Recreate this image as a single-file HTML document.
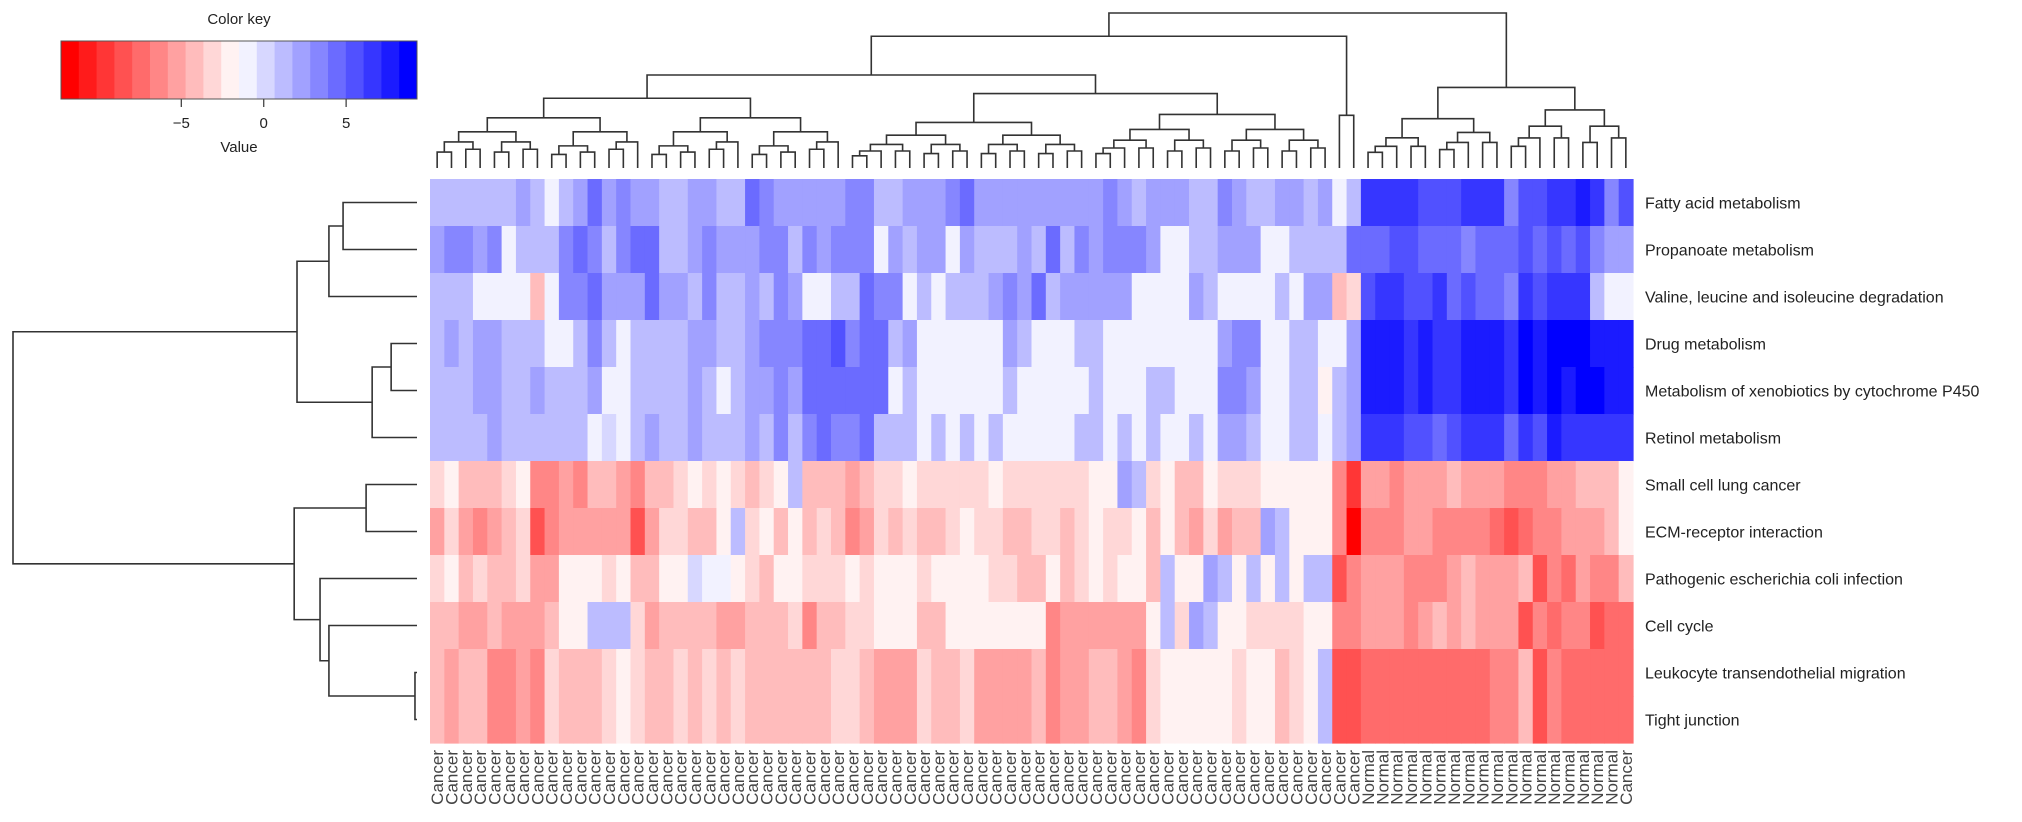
<!DOCTYPE html>
<html><head><meta charset="utf-8"><style>
html,body{margin:0;padding:0;background:#fff;width:2022px;height:822px;overflow:hidden}
svg{display:block}
text{font-family:"Liberation Sans",Arial,sans-serif}
</style></head><body>
<svg id="chart" width="2022" height="822" viewBox="0 0 2022 822"></svg>
<script>
// ---------- DATA ----------
const rowNames = ["Fatty acid metabolism","Propanoate metabolism","Valine, leucine and isoleucine degradation","Drug metabolism","Metabolism of xenobiotics by cytochrome P450","Retinol metabolism","Small cell lung cancer","ECM-receptor interaction","Pathogenic escherichia coli infection","Cell cycle","Leukocyte transendothelial migration","Tight junction"];
const colGroups = ["Cancer","Normal","Cancer"];
const colGroupCounts = [65,18,1];
const keyTicks = [-5,0,5];
const keyMin = -9.3, keyMax = 7.48;
const keyAxisMin = -12.3, keyAxisMax = 9.3;

const r0 = [1,1,1,1,1,1,2,1,-0.5,1,2,3.5,2,2.5,2,2,1,1,2,2,1, 1,3.5,2.5,2,2,2,2,2,2.5,2.5,1,1,2,2,2,2.5,3.5,2,2,2,2, 2,2,2,2,2,2.5,2,1,2,2,2,1,1,2.8,2,1,1,2,2,1,2, -0.5,1,5,5,5,5.8,4.3,4.3,4.3,5,5,5,3,4.3,4.3,5.5,5.5,6.5,5.5,3.2,4.3];
const r1 = [2,2.5,2.5,2,2.5,-0.5,1,1,1,2.5,3.5,2.5,1.5,2.5,3.5,3.5,1,1,2,2.5,2, 2,2,2.5,2.5,1,2.5,1.8,2.5,2.5,2.5,-0.5,2,1.2,2,2,-0.5,2,1.2,1.2,1.2,2, 1,3.5,1,2.5,2,2.5,3.2,2.5,2,-0.5,-0.5,1.2,1.2,1.8,1.8,1.8,-0.5,-0.5,1,1,1, 1,3.5,3.5,3.5,4.2,4.2,3.5,4,4,2.8,3.5,3.5,3.5,4.3,3.5,4.5,3.5,4.3,2.5,2,2];
const r2 = [1,1,1,-0.5,-0.5,-0.5,-0.5,-3,-0.5,2.5,2.5,3.5,2,2,2,3.5,2,2,1,2.5,1, 1.2,2,1,2.5,1.8,-0.5,-0.5,1,1,3.5,2.8,2.8,-0.5,1,-0.5,1,1,1,2,2.8,2, 3.5,1,2,2,2,2,2,-0.5,-0.5,-0.5,-0.5,2,1,-0.5,-0.5,-0.5,-0.5,1,-0.5,2,2, -3,-2,4.3,5,5,4.5,4.5,5,3.5,4.3,3.5,3.5,2.8,5.5,4.8,5.8,5.8,5.8,1.2,-0.5,-0.5];
const r3 = [1,2,1,2,2,1,1,1,-0.5,-0.5,1,2.5,1,-0.5,1,1,1,1,2,2,1, 1,1.8,2.5,3.2,2.8,3.5,3.5,4.5,2.8,3.5,3.5,1.2,1.8,-0.5,-0.5,-0.5,-0.5,-0.5,-0.5,2,1, -0.5,-0.5,-0.5,1,1,-0.5,-0.5,-0.5,-0.5,-0.5,-0.5,-0.5,-0.5,2,3,3,-0.5,-0.5,1,1,-0.5, -0.5,2,6.5,6.5,6.5,5.8,6.5,5.8,5.8,6.5,6.5,6.5,5.5,7,6.2,7.2,6.8,6.8,6.5,6.5,6.5];
const r4 = [1,1,1,2,2,1,1,1.8,1,1,1,2,-0.5,-0.5,1,1,1,1,2,1,-0.5, 1,1.8,2,2.5,1.8,3.8,3.8,3.8,3.8,3.5,3.5,-0.5,1,-0.5,-0.5,-0.5,-0.5,-0.5,-0.5,1,-0.5, -0.5,-0.5,-0.5,-0.5,1,-0.5,-0.5,-0.5,1,1,-0.5,-0.5,-0.5,3,3,2,-0.5,-0.5,1,1,-1, 1,2,6.5,6.5,6.5,5.8,6.5,5.8,5.8,6.5,6.5,6.5,5.5,7,6,7.2,6,6.8,6.8,6.5,6.5];
const r5 = [1,1,1,1,2,1,1,1,1,1,1,-0.5,0.5,-0.5,1,2,1,1,2,1,1, 1,2,1,2.8,1,2.5,3.5,2.8,2.8,3.5,1.2,1.2,1.2,-0.5,1,-0.5,1,-0.5,1,-0.5,-0.5, -0.5,-0.5,-0.5,1,1,-0.5,1,-0.5,1,-0.5,-0.5,1,-0.5,2,2,1,-0.5,-0.5,1,1,-0.5, 1,2,5.5,5.5,5.5,4.8,4.8,4,4.8,5.5,5.5,5.5,3.8,5.5,4.2,6.5,5.3,5.3,5.3,5.3,5.3];
const r6 = [-2,-1,-3,-3,-3,-2,-1,-5,-5,-3.5,-4.5,-3,-3,-3.5,-4.5,-3,-3,-2,-1,-2,-1, -2,-2.8,-2,-1,0.8,-3,-3,-3,-4,-3.2,-2,-2,-1,-2,-2,-2,-2,-2,-1,-2,-2, -2,-2,-2,-2,-1,-1,2,1,-2.5,-1,-2.8,-2.8,-1,-2,-2,-2,-1,-1,-1,-1,-1, -4.5,-7.5,-3.8,-3.8,-4.5,-3.8,-3.8,-3.8,-3,-3.8,-3.8,-3.8,-4.5,-4.5,-5,-3.8,-3.8,-3.2,-3.2,-2.8,-1];
const r7 = [-3.5,-2.5,-3.5,-4.5,-3.5,-3,-2.5,-6,-4.5,-3.8,-3.8,-3.8,-3.8,-3.8,-6.5,-3.5,-2.3,-2.3,-3,-3,-1, 0.8,-2,-1,-3,-1,-2.8,-2,-3,-4.5,-4,-2,-3,-2.5,-3,-3,-2,-1,-2,-2,-3,-3, -2,-2,-2.8,-2,-1,-2,-2,-1,-2.8,-1,-3,-4,-2,-4,-3,-3,1.8,1,-1,-1,-1, -4.5,-9,-4.8,-4.8,-4.8,-4,-4,-4.8,-4.8,-4.8,-4.8,-5.5,-6.5,-5.5,-4.8,-4.8,-4,-3.5,-3.5,-2.8,-1];
const r8 = [-2,-1,-3,-2,-3,-3,-2,-3.5,-3.5,-1,-1,-1,-2,-1,-3,-3,-1,-1,0.5,-0.8,-0.8, -1,-2,-3,-1,-1,-2.5,-2,-2,-1,-2,-1,-1,-1,-2,-1,-1,-1,-1,-2,-2,-3, -2.8,-1,-2.8,-2,-1,-2,-1,-1,-2.8,0.8,-1,-1,2,1,-1,1,-1,1,-1,1,1, -6,-4.8,-3.8,-3.8,-3.8,-4.5,-4.5,-4.5,-3.5,-2.8,-3.5,-3.5,-3.5,-2.8,-6,-4.8,-5.5,-3.5,-4.5,-4.5,-3];
const r9 = [-3,-3,-3.8,-3.8,-3,-3.8,-3.8,-3.8,-3,-1,-1,0.8,0.8,0.8,-2.5,-4,-3,-3,-3,-3,-4, -4,-3.2,-3.2,-3.2,-2,-4.5,-3,-3,-2.2,-2.2,-1,-1,-1,-3,-3,-1,-1,-1,-1,-1,-1, -1,-4.5,-4,-3.5,-3.5,-4,-3.5,-3.5,-1,1,-2,2,1,-1,-1,-2,-2,-2,-2,-1,-1, -5,-4.5,-3.5,-3.5,-3.5,-5,-3.5,-3,-3.5,-2.8,-3.5,-3.5,-3.5,-6,-4.8,-5.5,-4.5,-4.5,-6.5,-5.8,-5.8];
const r10 = [-3,-4,-3,-3,-5,-5,-3.8,-5,-2.2,-3,-3,-3,-2.2,-1,-2,-3,-3,-2,-3,-2,-3, -2,-3,-3,-3,-3,-3,-3,-2.2,-2.2,-3,-3.8,-3.8,-3.8,-2,-3,-3,-2,-3.8,-3.8,-3.8,-3.8, -3,-5,-4,-4,-3,-3,-4,-5,-2,-1,-1,-1,-1,-1,-2,-1,-1,-3,-2,-1,1, -6.2,-6.2,-5.5,-5.5,-5.5,-5.5,-5.5,-5.5,-5.5,-5.5,-5.5,-4.5,-4.5,-3,-6.2,-4.5,-5.5,-5.5,-5.5,-5.5,-5.5];
const r11 = r10.slice();
const values = [r0,r1,r2,r3,r4,r5,r6,r7,r8,r9,r10,r11];

// row dendrogram merges: [childA, childB, height(0-100)]
const rowMerges = [[3,4,6.4],[-1,5,11.1],[0,1,18.3],[-3,2,21.8],[-4,-2,29.7],[10,11,0.5],[9,-6,21.8],[8,-7,24],[6,7,12.6],[-9,-8,30.4],[-5,-10,100]];
// column dendrogram top-level clusters: [lo, hi, height]
const colTop = [[0,28,45],[29,62,48],[0,62,60],[63,64,34],[0,64,85],[65,83,52],[0,83,100]];

// ---------- LAYOUT ----------
const svg = document.getElementById('chart');
const NS = 'http://www.w3.org/2000/svg';
const HX0 = 430, HX1 = 1633, HY0 = 179, HY1 = 743;
const nCols = values[0].length, nRows = values.length;
const cw = (HX1 - HX0) / nCols, rh = (HY1 - HY0) / nRows;
const xCol = i => HX0 + i * cw;
const yRow = j => HY0 + j * rh;
function mk(tag, attrs){const e=document.createElementNS(NS,tag);for(const k in attrs)e.setAttribute(k,attrs[k]);svg.appendChild(e);return e;}

function palette(i){const t=i/19;let r,g,b;if(t<0.5){r=255;g=b=Math.round(255*t/0.5);}else{r=g=Math.round(255*(1-(t-0.5)/0.5));b=255;}return `rgb(${r},${g},${b})`;}
const binW = (keyMax-keyMin)/20;
function colorOf(v){let i=Math.floor((v-keyMin)/binW);i=Math.max(0,Math.min(19,i));return palette(i);}

for(let j=0;j<nRows;j++){for(let i=0;i<nCols;i++){
  const c = mk('rect',{x:xCol(i).toFixed(2),y:yRow(j).toFixed(2),width:(cw+0.6).toFixed(2),height:(rh+0.6).toFixed(2),fill:colorOf(values[j][i])});
  
  
}}

rowNames.forEach((n,j)=>{
  const t = mk('text',{x:1645,y:(yRow(j)+rh/2+6).toFixed(1),'font-size':16,fill:'#222'});
  t.textContent = n;
  
  
});

let labels=[];colGroups.forEach((g,k)=>{for(let q=0;q<colGroupCounts[k];q++)labels.push(g);});
labels.forEach((n,i)=>{
  const cx = xCol(i)+cw/2+6;
  const t = mk('text',{transform:`translate(${cx.toFixed(1)},750) rotate(-90)`,'text-anchor':'end','font-size':17,fill:'#444'});
  t.textContent = n;
  
  
});

const RX_LEAF=417, RX_ROOT=13;
const hx = h => RX_LEAF - h*(RX_LEAF-RX_ROOT)/100;
const rowNodes=[];
function rNode(c){return c>=0?{y:yRow(c)+rh/2,x:RX_LEAF}:rowNodes[-c-1];}
rowMerges.forEach(m=>{
  const a=rNode(m[0]), b=rNode(m[1]), x=hx(m[2]);
  const p = mk('path',{d:`M${a.x},${a.y}H${x}V${b.y}H${b.x}`,fill:'none',stroke:'#333','stroke-width':1.6});
  
  
  rowNodes.push({x:x,y:(a.y+b.y)/2});
});

const CY_LEAF=168, CY_ROOT=13;
const hy = h => CY_LEAF - h*(CY_LEAF-CY_ROOT)/100;
function drawLink(a,b,y){
  const p = mk('path',{d:`M${a.x},${a.y}V${y}H${b.x}V${b.y}`,fill:'none',stroke:'#333','stroke-width':1.6});
  
  
}
function sub(lo,hi,h){
  if(lo===hi)return {x:xCol(lo)+cw/2,y:CY_LEAF};
  const mid=Math.floor((lo+hi)/2);
  const ch=Math.max(2,h*0.72);
  const a=sub(lo,mid,ch*( (hi-lo)%3===0?0.85:1)), b=sub(mid+1,hi,ch);
  const y=hy(h);drawLink(a,b,y);return {x:(a.x+b.x)/2,y:y};
}
const cache={};
function cl(lo,hi){return cache[lo+'-'+hi];}
colTop.forEach(t=>{
  const [lo,hi,h]=t;
  let kids=[];
  for(const k in cache){const [a,b]=k.split('-').map(Number);if(a>=lo&&b<=hi&&!(a===lo&&b===hi))kids.push([a,b]);}
  kids=kids.filter(k=>!kids.some(o=>o!==k&&o[0]<=k[0]&&o[1]>=k[1]&&!(o[0]===k[0]&&o[1]===k[1])));
  let node;
  if(kids.length===2){kids.sort((p,q)=>p[0]-q[0]);const a=cl(kids[0][0],kids[0][1]),b=cl(kids[1][0],kids[1][1]);const y=hy(h);drawLink(a,b,y);node={x:(a.x+b.x)/2,y:y};}
  else node=sub(lo,hi,h);
  cache[lo+'-'+hi]=node;
});

const KX0=61,KX1=417,KY0=41,KY1=99;
const kx = v => KX0 + (v-keyAxisMin)/(keyAxisMax-keyAxisMin)*(KX1-KX0);
for(let i=0;i<20;i++){
  const r = mk('rect',{x:(KX0+i*(KX1-KX0)/20).toFixed(2),y:KY0,width:((KX1-KX0)/20+0.5).toFixed(2),height:KY1-KY0,fill:palette(i)});
  
  
}
const kb = mk('rect',{x:KX0,y:KY0,width:KX1-KX0,height:KY1-KY0,fill:'none',stroke:'#555','stroke-width':1});


keyTicks.forEach(v=>{
  const l = mk('line',{x1:kx(v),x2:kx(v),y1:KY1,y2:KY1+8,stroke:'#444','stroke-width':1.3});
  
  
  const t = mk('text',{x:kx(v),y:KY1+29,'text-anchor':'middle','font-size':15,fill:'#222'});
  t.textContent = v<0?'\u2212'+Math.abs(v):String(v);
  
  
});
const kt = mk('text',{x:(KX0+KX1)/2,y:24,'text-anchor':'middle','font-size':15,fill:'#222'});
kt.textContent='Color key';


const kv = mk('text',{x:(KX0+KX1)/2,y:152,'text-anchor':'middle','font-size':15,fill:'#222'});
kv.textContent='Value';


</script>
</body></html>
